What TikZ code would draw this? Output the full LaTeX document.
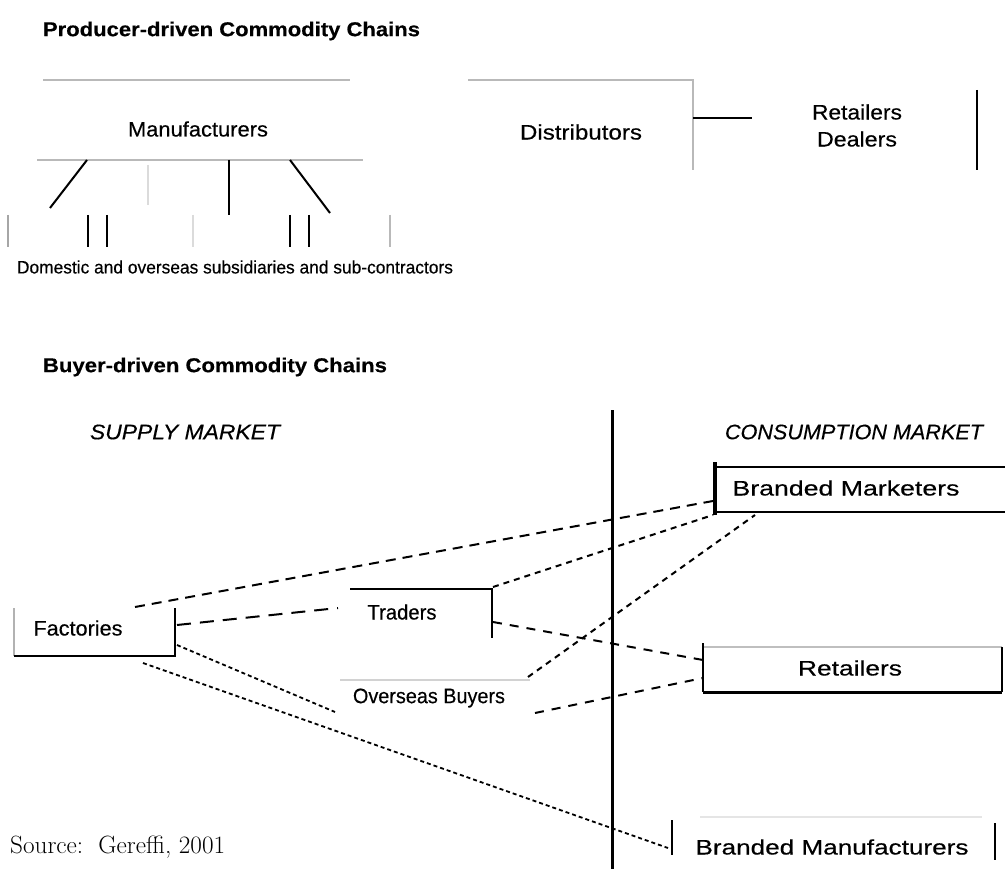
\documentclass[tikz,border=0pt]{standalone}
\usepackage{graphicx}
\usepackage{fontspec}
\newfontfamily\lblfont[FakeBold=0.35]{Liberation Sans}
\newcommand{\fitw}[2]{\resizebox{#1pt}{\height}{#2}}
\tikzset{
  lab/.style={inner sep=0pt, font=\lblfont\fontsize{21}{24}\selectfont},
  gline/.style={draw=gray!55, line width=1.6pt},
  lgline/.style={draw=gray!28, line width=1.5pt},
  bline/.style={draw=black, line width=2pt},
  dlong/.style={line width=2pt, dash pattern=on 10pt off 7pt},
  dlonger/.style={line width=2pt, dash pattern=on 14pt off 9pt},
  dmed/.style={line width=2pt, dash pattern=on 9pt off 8pt},
  dshort/.style={line width=2pt, dash pattern=on 6pt off 5pt},
  ddot/.style={line width=1.8pt, dash pattern=on 4pt off 3pt},
}
\begin{document}
\begin{tikzpicture}[x=1pt, y=-1pt]
\useasboundingbox[fill=white] (0,0) rectangle (1005,869);

% ---------------- Producer-driven ----------------
\node[lab, font=\lblfont\fontsize{20}{24}\selectfont] (t1) at (231.5,31) {\fitw{377}{\bfseries Producer-driven Commodity Chains}};
\draw[gline] (43,80) -- (350,80);
\draw[gline] (468,80) -- (693,80) -- (693,170);
\node[lab] (manu) at (198,129) {\fitw{140}{Manufacturers}};
\node[lab] (dist) at (581,132) {\fitw{122}{Distributors}};
\node[lab] (retA) at (857,112) {\fitw{90}{Retailers}};
\node[lab] (retB) at (857,139) {\fitw{80}{Dealers}};
\coordinate (dv) at (693,118);
\coordinate (dr) at (752,118);
\draw[bline] (dv) -- (dr);
\draw[bline] (977,90) -- (977,170);

\draw[gline] (37,160) -- (363,160);
\draw[bline] (87,160) -- (50,208);
\draw[lgline] (148,165) -- (148,205);
\draw[bline] (229,160) -- (229,215);
\draw[bline] (290,160) -- (330,213);

\draw[draw=gray!70, line width=2pt] (8,215) -- (8,247);
\draw[bline] (88,215) -- (88,247);
\draw[bline] (107,215) -- (107,247);
\draw[lgline] (193,215) -- (193,247);
\draw[bline] (290,215) -- (290,247);
\draw[bline] (309,215) -- (309,247);
\draw[gline] (390,215) -- (390,247);
\node[lab, font=\lblfont\fontsize{18}{21}\selectfont] (subs) at (235,267) {\fitw{436}{Domestic and overseas subsidiaries and sub-contractors}};

% ---------------- Buyer-driven ----------------
\node[lab, font=\lblfont\fontsize{20}{24}\selectfont] (t2) at (215,367) {\fitw{344}{\bfseries Buyer-driven Commodity Chains}};
\node[lab] (sm) at (185,432) {\fitw{190}{\itshape SUPPLY MARKET}};
\node[lab] (cm) at (854,432) {\fitw{258}{\itshape CONSUMPTION MARKET}};

\draw[line width=3pt] (612,410) -- (612,869);

% Branded Marketers box
\draw[bline, line width=2.5pt] (1005,467) -- (715,467) -- (715,512) -- (1005,512);
\draw[line width=4pt] (715,462) -- (715,515);
\node[lab] (bmk) at (846,488) {\fitw{227}{Branded Marketers}};

% Factories box
\draw[draw=gray!60, line width=2pt] (14,608) -- (14,656);
\draw[bline] (14,656) -- (175,656) -- (175,608);
\node[lab] (fac) at (78,628) {\fitw{89}{Factories}};

% Traders box
\draw[bline] (350,589) -- (492,589) -- (492,638);
\node[lab] (tra) at (402,612) {\fitw{69}{Traders}};

% Overseas Buyers
\draw[draw=gray!35, line width=2pt] (340,680) -- (530,680);
\node[lab] (ovb) at (429,698) {\fitw{152}{Overseas Buyers}};

% Retailers box
\draw[draw=gray!50, line width=1.5pt] (703,647) -- (1002,647);
\draw[bline] (703,643) -- (703,692);
\draw[line width=3pt] (703,692) -- (1002,692);
\draw[bline] (1002,692) -- (1002,647);
\node[lab] (rtl) at (850,668) {\fitw{104}{Retailers}};

% Branded Manufacturers box
\draw[draw=gray!20, line width=2pt] (700,817) -- (982,817);
\draw[bline] (672,820) -- (672,855);
\draw[bline] (995,823) -- (995,860);
\node[lab] (bmf) at (832,847) {\fitw{273}{Branded Manufacturers}};

% connector end points
\coordinate (c1a) at (135,607);  \coordinate (c1b) at (713,501);
\coordinate (c2a) at (177,625);  \coordinate (c2b) at (338,608);
\coordinate (c3a) at (493,587);  \coordinate (c3b) at (713,515);
\coordinate (c4a) at (493,622);  \coordinate (c4b) at (703,660);
\coordinate (c5a) at (528,677);  \coordinate (c5b) at (755,515);
\coordinate (c6a) at (535,713);  \coordinate (c6b) at (703,678);
\coordinate (cAa) at (177,645);  \coordinate (cAb) at (335,712);
\coordinate (cBa) at (143,663);  \coordinate (cBb) at (668,848);

\draw[dlong] (c1a) -- (c1b);
\draw[dlonger] (c2a) -- (c2b);
\draw[dshort] (c3a) -- (c3b);
\draw[dmed] (c4a) -- (c4b);
\draw[dshort] (c5a) -- (c5b);
\draw[dmed] (c6a) -- (c6b);
\draw[ddot] (cAa) -- (cAb);
\draw[ddot] (cBa) -- (cBb);

\node[inner sep=0pt, anchor=west] (src) at (10,847) {\fontsize{25}{29}\selectfont\fitw{215}{Source:\ \ Gereffi, 2001}};
\end{tikzpicture}
\end{document}
